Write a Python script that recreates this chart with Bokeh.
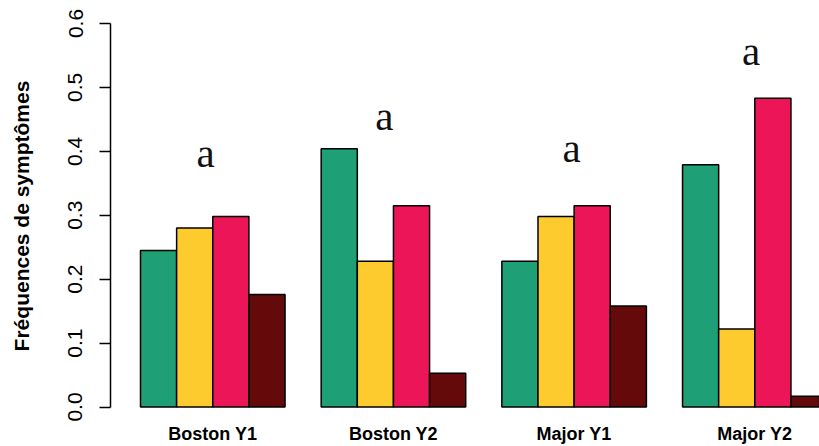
from bokeh.plotting import figure
from bokeh.models import Range1d, FixedTicker, ColumnDataSource
from bokeh.core.properties import value
from bokeh.embed import file_html
from bokeh.resources import INLINE

# ---- data ----
groups = ["Boston Y1", "Boston Y2", "Major Y1", "Major Y2"]
series_colors = ["#1f9f75", "#fecb2f", "#ec1557", "#650a0b"]
s1 = [0.245, 0.404, 0.228, 0.379]   # green
s2 = [0.280, 0.228, 0.298, 0.122]   # yellow
s3 = [0.298, 0.315, 0.315, 0.483]   # pink
s4 = [0.176, 0.053, 0.158, 0.017]   # dark red
letters = ["a", "a", "a", "a"]
letter_y = [0.379, 0.437, 0.386, 0.538]
letter_shift = [-0.2, -0.25, -0.07, -0.1]
y_ticks = [0.0, 0.1, 0.2, 0.3, 0.4, 0.5, 0.6]
y_title = "Fréquences de symptômes"

series = [s1, s2, s3, s4]
nser = len(series)
gap = 1

xs, tops, cols = [], [], []
centers = []
for g in range(len(groups)):
    start = gap + g * (nser + gap)
    centers.append(start + nser / 2)
    for b in range(nser):
        xs.append(start + b + 0.5)
        tops.append(series[b][g])
        cols.append(series_colors[b])

src = ColumnDataSource(dict(x=xs, top=tops, color=cols))

p = figure(width=819, height=446, output_backend="svg", toolbar_location=None,
           x_range=Range1d(0.17, 19.79), y_range=Range1d(-0.00234, 0.6),
           min_border_left=110, min_border_right=0, min_border_top=23, min_border_bottom=36)
p.outline_line_color = None
p.xgrid.visible = False
p.ygrid.visible = False
p.background_fill_color = "white"

p.vbar(x="x", top="top", bottom=0, width=1, fill_color="color",
       line_color="black", line_width=1.5, source=src)

lsrc = ColumnDataSource(dict(x=[c + s for c, s in zip(centers, letter_shift)], y=letter_y, t=letters))
p.text(x="x", y="y", text="t", source=lsrc, text_align="center", text_baseline="alphabetic",
       y_offset=-12,
       text_font=value("Liberation Serif"), text_font_size="41px", text_color="#111111")

# y axis
ya = p.yaxis[0]
ya.ticker = FixedTicker(ticks=y_ticks)
ya.major_label_overrides = {t: f"{t:.1f}" for t in y_ticks}
ya.bounds = (0, 0.6)
ya.minor_tick_line_color = None
ya.major_tick_out = 11
ya.major_tick_in = 0
ya.major_tick_line_width = 1.5
ya.axis_line_width = 1.5
ya.major_label_orientation = "vertical"
ya.major_label_text_font = "Liberation Sans"
ya.major_label_text_font_size = "21px"
ya.major_label_text_color = "black"
ya.major_label_standoff = 17
ya.axis_label = y_title
ya.axis_label_text_font = "Liberation Sans"
ya.axis_label_text_font_style = "bold"
ya.axis_label_text_font_size = "21px"
ya.axis_label_text_color = "black"
ya.axis_label_standoff = 33

# x axis
xa = p.xaxis[0]
xa.ticker = FixedTicker(ticks=centers)
xa.major_label_overrides = {c: g for c, g in zip(centers, groups)}
xa.axis_line_color = None
xa.major_tick_line_color = None
xa.minor_tick_line_color = None
xa.major_tick_out = 0
xa.major_label_standoff = 15
xa.major_label_text_font = "Liberation Sans"
xa.major_label_text_font_style = "bold"
xa.major_label_text_font_size = "18px"
xa.major_label_text_color = "black"

open("out.html", "w").write(file_html(p, INLINE))
